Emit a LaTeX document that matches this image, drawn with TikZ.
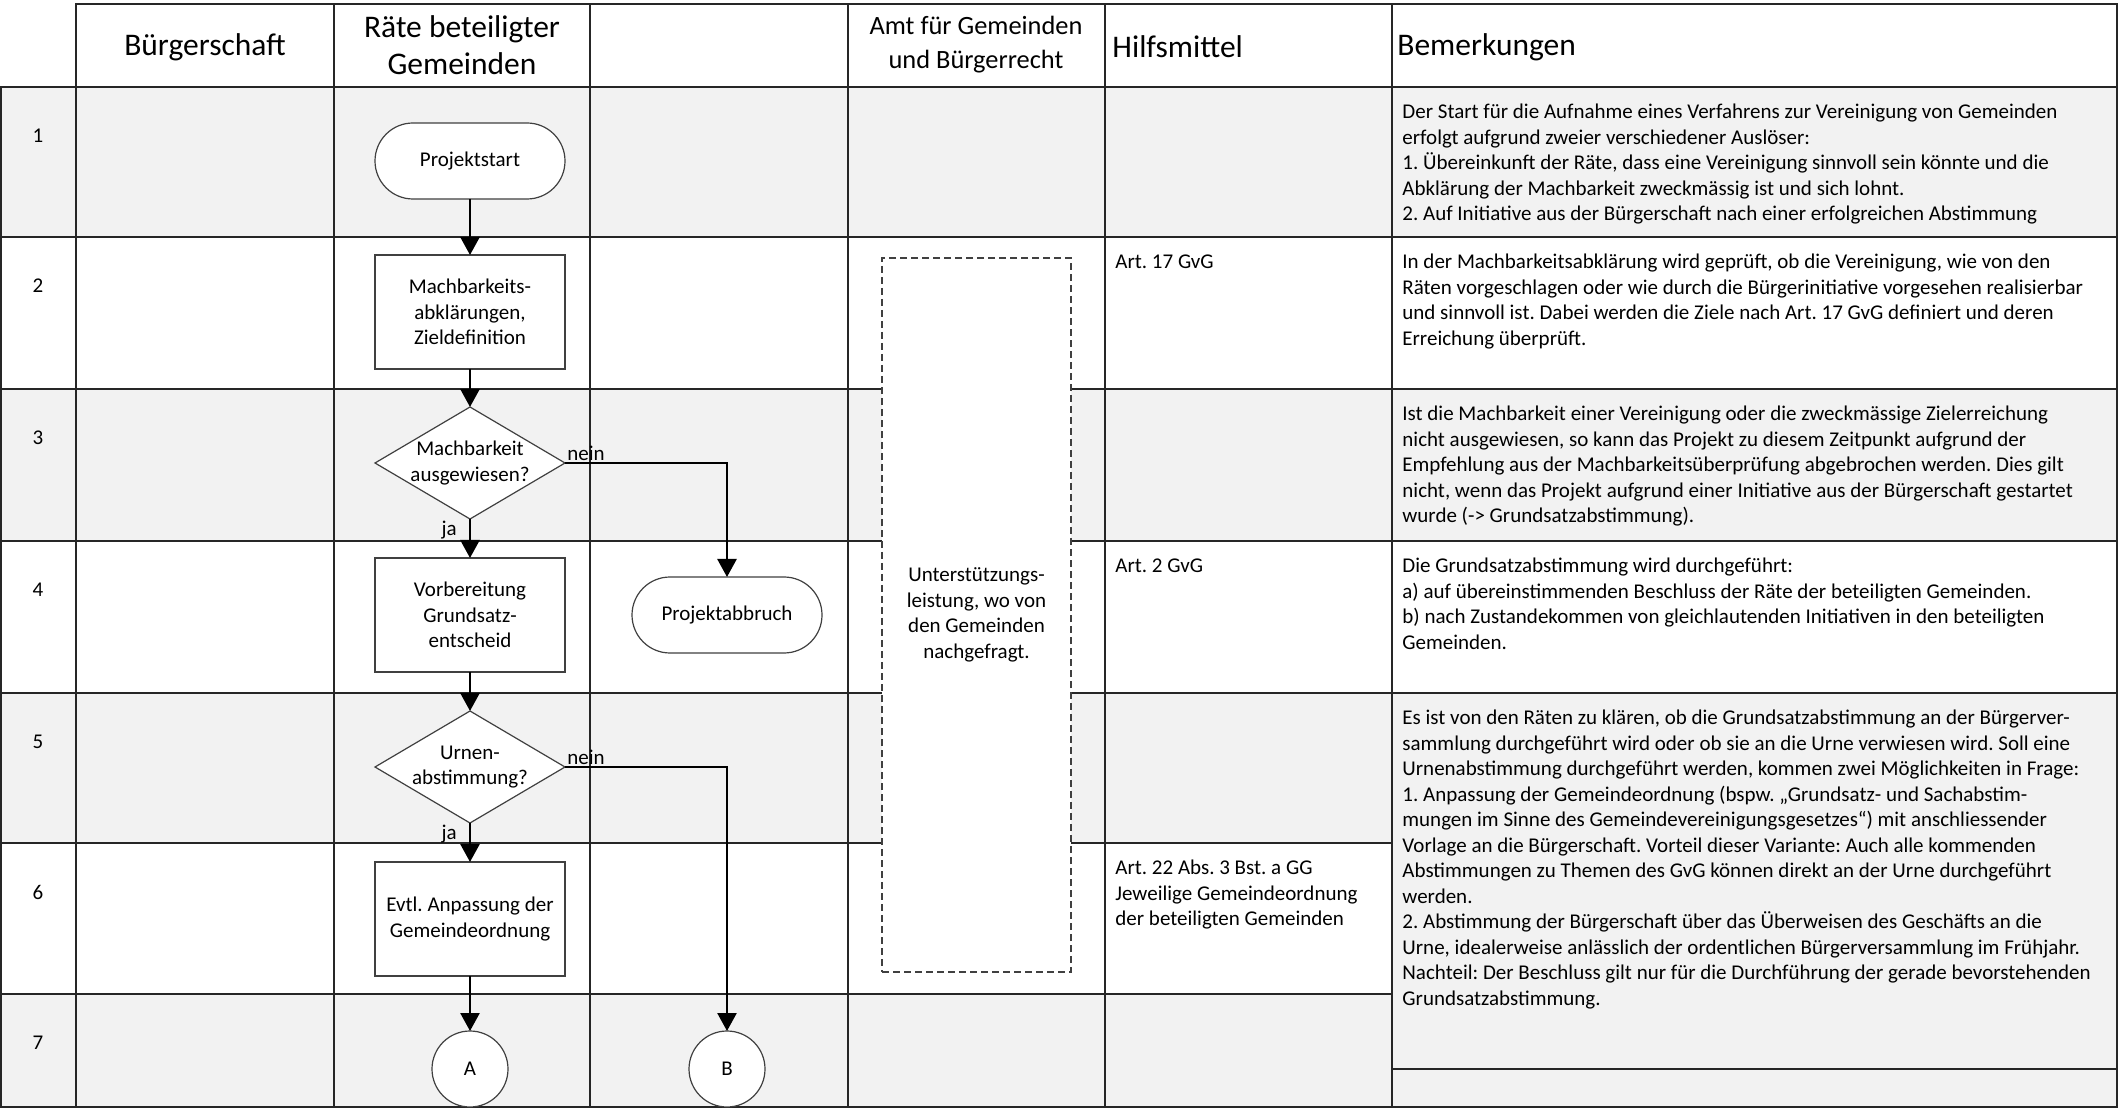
\documentclass[tikz,border=0pt]{standalone}
\usepackage{fontspec}
\setmainfont{Carlito}
\frenchspacing
\usetikzlibrary{arrows.meta, positioning, shapes.geometric}

\begin{document}
\begin{tikzpicture}[
    x=0.5pt, y=-0.5pt,
    rule/.style={draw=black!85, line width=0.8pt, line cap=rect},
    band/.style={fill=black!5},
    head/.style={font=\fontsize{15.75}{18.5}\selectfont, align=center, inner sep=0pt},
    body/.style={font=\fontsize{10.5}{12.75}\selectfont},
    note/.style={body, align=left, anchor=north west, inner sep=0pt},
    num/.style={body, inner sep=0pt},
    terminal/.style={body, rectangle, rounded corners=19pt, draw=black!75, line width=0.6pt,
                     fill=white, minimum width=95pt, minimum height=38pt, align=center, outer sep=0pt},
    process/.style={body, rectangle, draw=black!75, line width=0.6pt, fill=white,
                    minimum width=95pt, minimum height=57pt, align=center, outer sep=0pt},
    decision/.style={body, diamond, aspect=1.7, draw=black!75, line width=0.6pt, fill=white,
                     minimum width=95pt, minimum height=56pt, inner sep=-1.5pt, align=center, outer sep=0pt},
    connector/.style={body, circle, draw=black!75, line width=0.6pt, fill=white,
                      minimum size=38pt, inner sep=0pt, outer sep=0pt},
    support/.style={body, rectangle, dash pattern=on 3.5pt off 2pt, draw=black!75, line width=0.6pt,
                    fill=white, minimum width=94.5pt, minimum height=357pt, align=center},
    arrow/.style={-{Triangle[length=9pt, width=9.5pt]}, line width=1.3pt},
    answer/.style={body, inner sep=1pt},
]
    \useasboundingbox (0,0) rectangle (2118,1111);

    % Shaded rows
    \fill[band] (1,87) rectangle (2117,237);
    \fill[band] (1,389) rectangle (2117,541);
    \fill[band] (1,693) rectangle (2117,843);
    \fill[band] (1,994) rectangle (2117,1107);
    \fill[band] (1392,693) rectangle (2117,1107);

    % Table lines
    \draw[rule] (76,4) -- (2117,4);
    \draw[rule] (1,87) -- (2117,87) (1,237) -- (2117,237) (1,389) -- (2117,389)
                (1,541) -- (2117,541) (1,693) -- (2117,693)
                (1,843) -- (1392,843) (1,994) -- (1392,994)
                (1392,1069) -- (2117,1069) (1,1107) -- (2117,1107);
    \draw[rule] (1,87) -- (1,1107) (76,4) -- (76,1107) (334,4) -- (334,1107)
                (590,4) -- (590,1107) (848,4) -- (848,1107) (1105,4) -- (1105,1107)
                (1392,4) -- (1392,1107) (2117,4) -- (2117,1107);

    % Column heads
    \node[head] (hbuerger) at (205,47) {Bürgerschaft};
    \node[head] (hraete) at (462,45) {Räte beteiligter\\Gemeinden};
    \node[head, font=\fontsize{13.2}{17}\selectfont] (hamt) at (976,45) {Amt für Gemeinden\\und Bürgerrecht};
    \node[head, anchor=west] (hhilf) at (1112,47) {Hilfsmittel};
    \node[head, anchor=west] (hbem) at (1397,47) {Bemerkungen};

    % Row numbers
    \node[num] (n1) at (38,136) {1};
    \node[num] (n2) at (38,286) {2};
    \node[num] (n3) at (38,438) {3};
    \node[num] (n4) at (38,590) {4};
    \node[num] (n5) at (38,742) {5};
    \node[num] (n6) at (38,892) {6};
    \node[num] (n7) at (38,1043) {7};

    % Flow of the councils
    \node[terminal] (start) at (470,161) {Projektstart};
    \node[process] (feas) [below=28pt of start] {Machbarkeits-\\abklärungen,\\Zieldefinition};
    \node[decision] (check) [below=19pt of feas] {Machbarkeit\\ausgewiesen?};
    \node[process] (prep) [below=19.5pt of check] {Vorbereitung\\Grundsatz-\\entscheid};
    \node[decision] (urn) [below=19.5pt of prep] {Urnen-\\abstimmung?};
    \node[process] (adapt) [below=19.5pt of urn] {Evtl. Anpassung der\\Gemeindeordnung};
    \node[connector] (conA) [below=27.5pt of adapt] {A};
    \node[terminal] (abort) [right=33.5pt of prep] {Projektabbruch};
    \node[connector] (conB) [right=90.5pt of conA] {B};

    \draw[arrow] (start) -- (feas);
    \draw[arrow] (feas) -- (check);
    \draw[arrow] (check) -- (prep);
    \draw[arrow] (prep) -- (urn);
    \draw[arrow] (urn) -- (adapt);
    \draw[arrow] (adapt) -- (conA);
    \draw[arrow] (check.east) -| (abort.north);
    \draw[arrow] (urn.east) -| (conB.north);

    \node[answer, anchor=south west] (nein1) at (check.east) {nein};
    \node[answer, anchor=north east, xshift=-5.5pt] (ja1) at (check.south) {ja};
    \node[answer, anchor=south west] (nein2) at (urn.east) {nein};
    \node[answer, anchor=north east, xshift=-5.5pt] (ja2) at (urn.south) {ja};

    % Support of the office
    \node[support] (help) at (976.5,615) {Unterstützungs-\\leistung, wo von\\den Gemeinden\\nachgefragt.};

    % Hilfsmittel
    \node[note] (aid2) at (1115,254) {Art. 17 GvG};
    \node[note] (aid4) at (1115,558) {Art. 2 GvG};
    \node[note] (aid6) at (1115,860) {Art. 22 Abs. 3 Bst. a GG\\Jeweilige Gemeindeordnung\\der beteiligten Gemeinden};

    % Bemerkungen
    \node[note] (rem1) at (1402,104) {Der Start für die Aufnahme eines Verfahrens zur Vereinigung von Gemeinden\\
        erfolgt aufgrund zweier verschiedener Auslöser:\\
        1. Übereinkunft der Räte, dass eine Vereinigung sinnvoll sein könnte und die\\
        Abklärung der Machbarkeit zweckmässig ist und sich lohnt.\\
        2. Auf Initiative aus der Bürgerschaft nach einer erfolgreichen Abstimmung};
    \node[note] (rem2) at (1402,254) {In der Machbarkeitsabklärung wird geprüft, ob die Vereinigung, wie von den\\
        Räten vorgeschlagen oder wie durch die Bürgerinitiative vorgesehen realisierbar\\
        und sinnvoll ist. Dabei werden die Ziele nach Art. 17 GvG definiert und deren\\
        Erreichung überprüft.};
    \node[note] (rem3) at (1402,406) {Ist die Machbarkeit einer Vereinigung oder die zweckmässige Zielerreichung\\
        nicht ausgewiesen, so kann das Projekt zu diesem Zeitpunkt aufgrund der\\
        Empfehlung aus der Machbarkeitsüberprüfung abgebrochen werden. Dies gilt\\
        nicht, wenn das Projekt aufgrund einer Initiative aus der Bürgerschaft gestartet\\
        wurde (->{} Grundsatzabstimmung).};
    \node[note] (rem4) at (1402,558) {Die Grundsatzabstimmung wird durchgeführt:\\
        a) auf übereinstimmenden Beschluss der Räte der beteiligten Gemeinden.\\
        b) nach Zustandekommen von gleichlautenden Initiativen in den beteiligten\\
        Gemeinden.};
    \node[note] (rem5) at (1402,710) {Es ist von den Räten zu klären, ob die Grundsatzabstimmung an der Bürgerver-\\
        sammlung durchgeführt wird oder ob sie an die Urne verwiesen wird. Soll eine\\
        Urnenabstimmung durchgeführt werden, kommen zwei Möglichkeiten in Frage:\\
        1. Anpassung der Gemeindeordnung (bspw. „Grundsatz- und Sachabstim-\\
        mungen im Sinne des Gemeindevereinigungsgesetzes“) mit anschliessender\\
        Vorlage an die Bürgerschaft. Vorteil dieser Variante: Auch alle kommenden\\
        Abstimmungen zu Themen des GvG können direkt an der Urne durchgeführt\\
        werden.\\
        2. Abstimmung der Bürgerschaft über das Überweisen des Geschäfts an die\\
        Urne, idealerweise anlässlich der ordentlichen Bürgerversammlung im Frühjahr.\\
        Nachteil: Der Beschluss gilt nur für die Durchführung der gerade bevorstehenden\\
        Grundsatzabstimmung.};
\end{tikzpicture}
\end{document}
